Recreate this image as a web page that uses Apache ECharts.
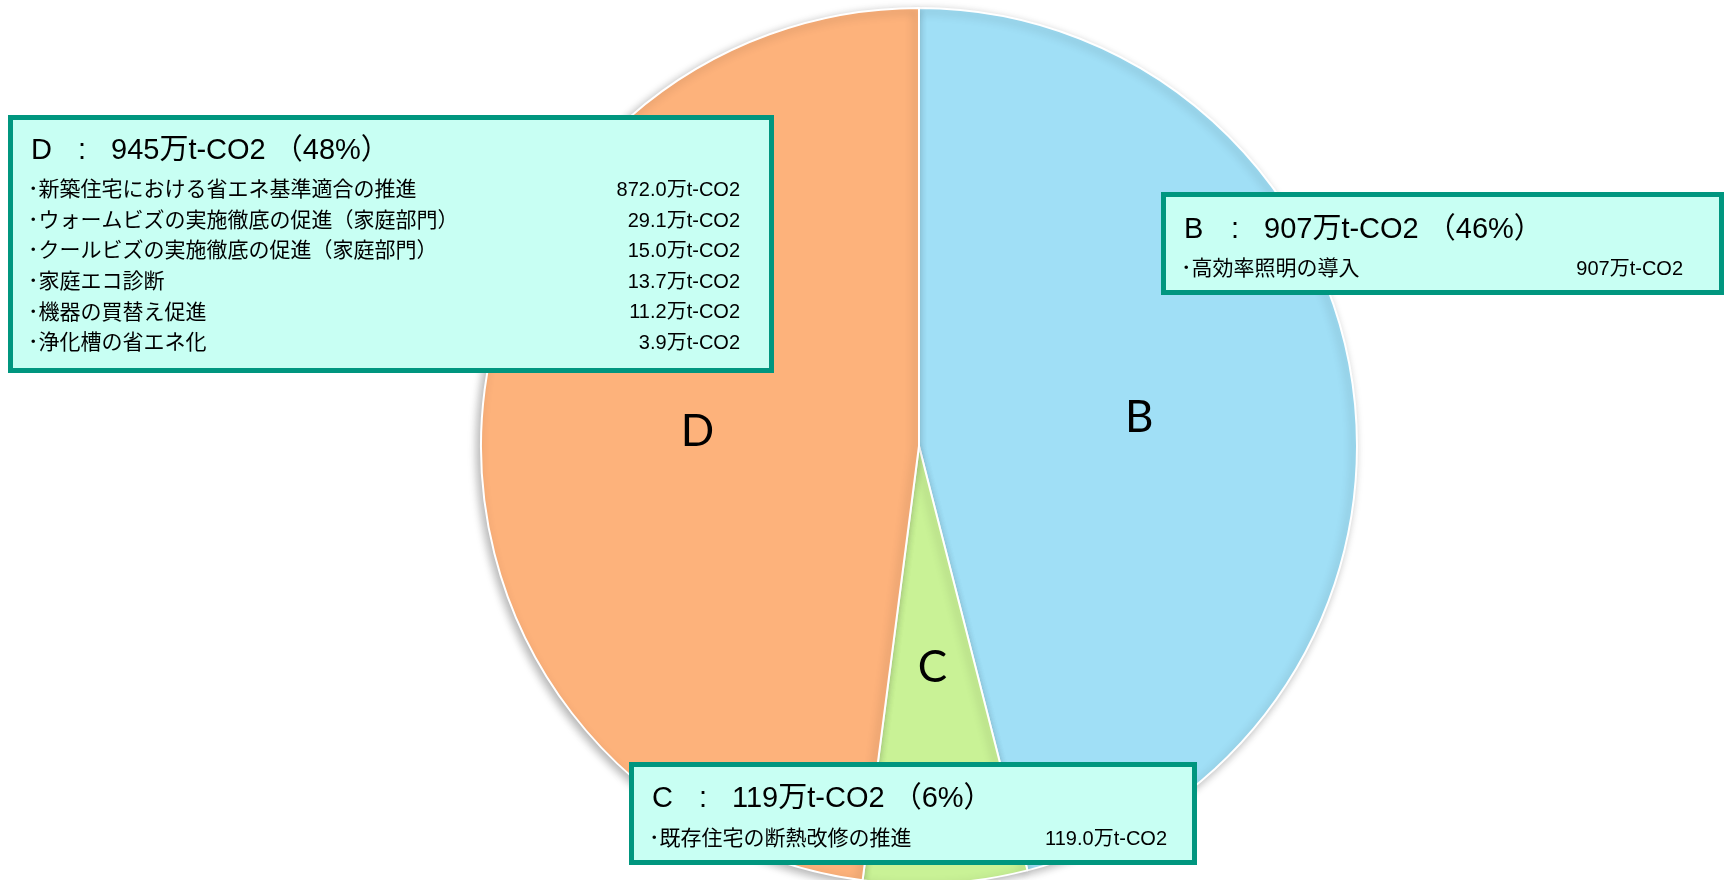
<!DOCTYPE html>
<html><head><meta charset="utf-8">
<script src="https://cdn.jsdelivr.net/npm/echarts@6/dist/echarts.min.js"></script>
<style>html,body{margin:0;padding:0;background:#fff}#c{width:1727px;height:880px}</style>
</head><body><div id="c"></div>
<script>
const categories = ['B', 'C', 'D'];
const totals = [907, 119, 945];
const totalTexts = ['907万t-CO2', '119万t-CO2', '945万t-CO2'];
const itemsB = ['･高効率照明の導入'];
const valuesB = ['907万t-CO2'];
const itemsC = ['･既存住宅の断熱改修の推進'];
const valuesC = ['119.0万t-CO2'];
const itemsD = ['･新築住宅における省エネ基準適合の推進', '･ウォームビズの実施徹底の促進（家庭部門）', '･クールビズの実施徹底の促進（家庭部門）', '･家庭エコ診断', '･機器の買替え促進', '･浄化槽の省エネ化'];
const valuesD = ['872.0万t-CO2', '29.1万t-CO2', '15.0万t-CO2', '13.7万t-CO2', '11.2万t-CO2', '3.9万t-CO2'];
const colors = ['#a0dff6', '#c9f296', '#fdb27b'];

const sum = totals.reduce((a, b) => a + b, 0);
const pct = totals.map(v => Math.round(v / sum * 100));
const FONT = '"Liberation Sans", "Noto Sans CJK JP", sans-serif';

function box(idx, x, y, w, h, titleY, rowY0, rowStep, valRight, items, vals) {
  const Z = 100;
  const children = [{
    type: 'rect', z: Z, shape: { x: x + 2.5, y: y + 2.5, width: w - 5, height: h - 5 },
    style: { fill: '#c8fff3', stroke: '#00967f', lineWidth: 5 }
  }, {
    type: 'text', z: Z + 1, x: x + 23, y: titleY,
    style: { text: categories[idx], font: '29px ' + FONT, fill: '#000', verticalAlign: 'middle' }
  }, {
    type: 'text', z: Z + 1, x: x + 70, y: titleY,
    style: { text: ':', font: '29px ' + FONT, fill: '#000', verticalAlign: 'middle' }
  }, {
    type: 'text', z: Z + 1, x: x + 103, y: titleY,
    style: { text: totalTexts[idx] + ' （' + pct[idx] + '%）', font: '29px ' + FONT, fill: '#000', verticalAlign: 'middle' }
  }];
  items.forEach((it, i) => {
    children.push({ type: 'text', z: Z + 1, x: x + 20, y: rowY0 + i * rowStep,
      style: { text: it, font: '21px ' + FONT, fill: '#000', verticalAlign: 'middle' } });
    children.push({ type: 'text', z: Z + 1, x: valRight, y: rowY0 + i * rowStep,
      style: { text: vals[i], font: '20px ' + FONT, fill: '#000', verticalAlign: 'middle', align: 'right' } });
  });
  return { type: 'group', z: Z, children };
}

const chart = echarts.init(document.getElementById('c'));
chart.setOption({
  animation: false,
  series: [{
    type: 'pie',
    z: 1,
    center: [919, 446],
    radius: 438,
    startAngle: 90,
    clockwise: true,
    data: categories.map((c, i) => ({ name: c, value: totals[i], itemStyle: { color: colors[i] } })),
    itemStyle: { borderColor: '#fff', borderWidth: 2, shadowBlur: 10, shadowOffsetX: -3, shadowOffsetY: 3, shadowColor: 'rgba(0,0,0,0.3)' },
    label: { position: 'inside', formatter: '{b}', fontSize: 44, fontFamily: 'Lato, "Open Sans", sans-serif', color: '#000' },
    labelLine: { show: false },
    emphasis: { disabled: true }
  }],
  graphic: [
    box(2, 8, 115, 766, 258, 151, 190.5, 30.6, 740, itemsD, valuesD),
    box(0, 1161, 192, 563, 103, 230, 269, 30, 1683, itemsB, valuesB),
    box(1, 629, 762, 568, 103, 799, 839, 30, 1167, itemsC, valuesC)
  ]
});
</script></body></html>
